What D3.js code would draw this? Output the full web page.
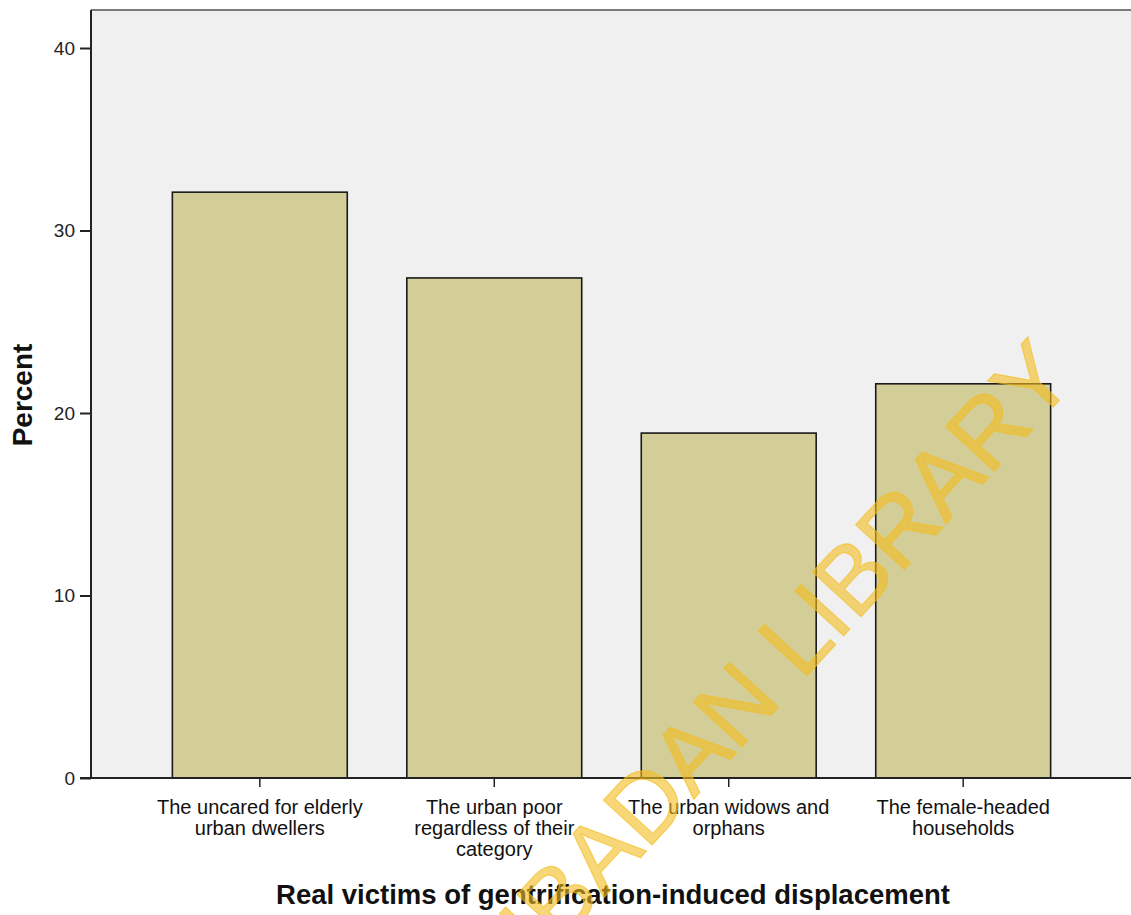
<!DOCTYPE html>
<html>
<head>
<meta charset="utf-8">
<script src="https://d3js.org/d3.v7.min.js"></script>
<style>
  html, body { margin: 0; padding: 0; background: #ffffff; }
  svg { display: block; }
</style>
</head>
<body>
<script>
// ---- data ----
const categories = [
  "The uncared for elderly urban dwellers",
  "The urban poor regardless of their category",
  "The urban widows and orphans",
  "The female-headed households"
];
const labelLines = [
  ["The uncared for elderly", "urban dwellers"],
  ["The urban poor", "regardless of their", "category"],
  ["The urban widows and", "orphans"],
  ["The female-headed", "households"]
];
const percents = [32.1, 27.4, 18.9, 21.6];
const yTicks = [0, 10, 20, 30, 40];
const yTitle = "Percent";
const xTitle = "Real victims of gentrification-induced displacement";
const watermark = "UNIVERSITY OF IBADAN LIBRARY";

// ---- layout ----
const W = 1131, H = 915;
const mLeft = 91, mRight = 1132, mTop = 10, mBottom = 778;

const svg = d3.select("body").append("svg")
  .attr("width", W).attr("height", H);

const x = d3.scaleBand()
  .domain(categories)
  .range([mLeft, mRight])
  .paddingInner(0.254)
  .paddingOuter(0.347);

const y = d3.scaleLinear()
  .domain([0, 40])
  .range([mBottom, 48]);

// plot background
svg.append("rect")
  .attr("x", mLeft).attr("y", mTop)
  .attr("width", W - mLeft).attr("height", mBottom - mTop)
  .attr("fill", "#f0f0f0");

// top frame line
svg.append("line")
  .attr("x1", mLeft).attr("x2", W)
  .attr("y1", mTop).attr("y2", mTop)
  .attr("stroke", "#7a7a7a").attr("stroke-width", 2);

// bars
svg.append("g").selectAll("rect")
  .data(categories)
  .join("rect")
  .attr("x", d => x(d))
  .attr("y", (d, i) => y(percents[i]))
  .attr("width", x.bandwidth())
  .attr("height", (d, i) => y(0) - y(percents[i]))
  .attr("fill", "#d3ce98")
  .attr("stroke", "#1a1a1a")
  .attr("stroke-width", 1.6);

// y axis
const yAxis = svg.append("g")
  .attr("transform", `translate(${mLeft},0)`)
  .call(d3.axisLeft(y).tickValues(yTicks).tickSize(11).tickPadding(5).tickFormat(d3.format("d")));
yAxis.select(".domain").attr("stroke", "#222").attr("stroke-width", 2)
  .attr("d", `M0,${mTop}V${mBottom}`);
yAxis.selectAll(".tick line").attr("stroke", "#222").attr("stroke-width", 2);
yAxis.selectAll(".tick text")
  .attr("font-family", "'Liberation Sans', Arial, sans-serif")
  .attr("font-size", 19).attr("fill", "#222");

// x axis
const xAxis = svg.append("g")
  .attr("transform", `translate(0,${mBottom})`)
  .call(d3.axisBottom(x).tickSize(9).tickFormat(""));
xAxis.select(".domain").attr("stroke", "#222").attr("stroke-width", 2)
  .attr("d", `M80,0H${W}`);
xAxis.selectAll(".tick line").attr("stroke", "#222").attr("stroke-width", 1.5);

// x tick labels (multi-line)
xAxis.selectAll(".tick").each(function(d, i) {
  const t = d3.select(this).append("text")
    .attr("text-anchor", "middle")
    .attr("font-family", "'Liberation Sans', Arial, sans-serif")
    .attr("font-size", 20)
    .attr("fill", "#111");
  labelLines[i].forEach((ln, j) => {
    t.append("tspan").attr("x", 0).attr("y", 36 + j * 21).text(ln);
  });
});

// axis titles
svg.append("text")
  .attr("transform", `translate(32,${(mTop + mBottom) / 2 + 1}) rotate(-90)`)
  .attr("text-anchor", "middle")
  .attr("font-family", "'Liberation Sans', Arial, sans-serif")
  .attr("font-weight", "bold")
  .attr("font-size", 28)
  .attr("fill", "#111")
  .text(yTitle);

svg.append("text")
  .attr("x", 613).attr("y", 904)
  .attr("text-anchor", "middle")
  .attr("font-family", "'Liberation Sans', Arial, sans-serif")
  .attr("font-weight", "bold")
  .attr("font-size", 27.5)
  .attr("fill", "#111")
  .text(xTitle);

// watermark
svg.append("text")
  .attr("transform", "translate(1078,380) rotate(-47.5)")
  .attr("text-anchor", "end")
  .attr("font-family", "'Liberation Sans', Arial, sans-serif")
  .attr("font-size", 96)
  .attr("fill", "rgb(243,189,30)")
  .attr("fill-opacity", 0.6)
  .attr("stroke", "rgb(243,189,30)")
  .attr("stroke-opacity", 0.6)
  .attr("stroke-width", 1.2)
  .attr("paint-order", "stroke")
  .text(watermark);
</script>
</body>
</html>
